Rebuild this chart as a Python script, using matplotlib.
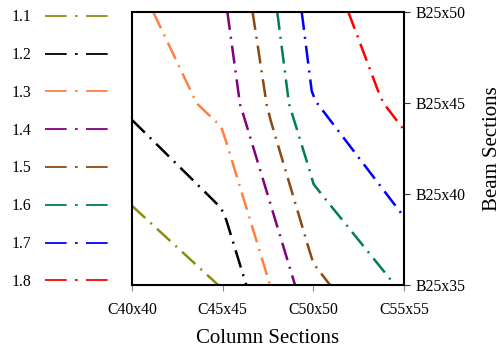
import matplotlib
matplotlib.use("Agg")
import matplotlib.pyplot as plt
from matplotlib.lines import Line2D

plt.rcParams["font.family"] = ["Liberation Serif", "DejaVu Serif"]

# column / beam section sizes (cm)
COLUMN_SIZES = [40, 45, 50, 55]
BEAM_SIZES = [35, 40, 45, 50]
COLUMN_LABELS = ["C40x40", "C45x45", "C50x50", "C55x55"]
BEAM_LABELS = ["B25x35", "B25x40", "B25x45", "B25x50"]

# contour levels and their traced iso-lines (column size, beam height)
LEVELS = ["1.1", "1.2", "1.3", "1.4", "1.5", "1.6", "1.7", "1.8"]
COLORS = ["#8c8c14", "#000000", "#ff8040", "#800080",
          "#8b4a12", "#00804a", "#0000ff", "#ff0000"]

x_11 = [40.00, 44.75]
y_11 = [39.35, 35.00]
x_12 = [40.00, 44.47, 44.92, 45.20, 46.30]
y_12 = [44.07, 39.67, 39.21, 38.57, 35.00]
x_13 = [41.17, 43.57, 44.91, 45.22, 47.61]
y_13 = [50.00, 44.98, 43.71, 42.79, 35.00]
x_14 = [45.26, 45.96, 46.14, 48.99]
y_14 = [50.00, 44.91, 44.36, 35.00]
x_15 = [46.65, 47.43, 47.67, 49.72, 50.00, 50.92]
y_15 = [50.00, 44.89, 43.96, 37.10, 36.19, 35.00]
x_16 = [48.01, 48.66, 49.82, 50.01, 50.48, 54.50]
y_16 = [50.00, 44.95, 41.21, 40.55, 39.95, 35.00]
x_17 = [49.36, 49.91, 50.12, 55.00]
y_17 = [50.00, 45.66, 45.11, 38.74]
x_18 = [51.93, 53.58, 53.86, 55.00]
y_18 = [50.00, 45.64, 45.00, 43.53]

LINES_X = [x_11, x_12, x_13, x_14, x_15, x_16, x_17, x_18]
LINES_Y = [y_11, y_12, y_13, y_14, y_15, y_16, y_17, y_18]


def plot_contours(out_png):
    fig = plt.figure(figsize=(5.04, 3.49), dpi=100)
    ax = fig.add_axes([0.2619, 0.1834, 0.5397, 0.7822])

    lw = 1.8
    for xs, ys, c in zip(LINES_X, LINES_Y, COLORS):
        ax.plot(xs, ys, color=c, lw=lw, linestyle=(0, (7.2, 2.8, 0.8, 2.8)),
                dash_capstyle="butt", clip_on=False)

    ax.set_xlim(40, 55)
    ax.set_ylim(35, 50)

    ax.set_xticks(COLUMN_SIZES)
    ax.set_xticklabels(COLUMN_LABELS)
    ax.set_yticks(BEAM_SIZES)
    ax.set_yticklabels(BEAM_LABELS)
    ax.yaxis.tick_right()
    ax.yaxis.set_label_position("right")

    ax.tick_params(axis="both", labelsize=11.3, direction="out",
                   length=4, width=0.8, color="#888888")
    ax.tick_params(axis="x", pad=8)
    ax.tick_params(axis="y", pad=4, color="#333333")

    for sp in ax.spines.values():
        sp.set_linewidth(1.5)

    ax.set_xlabel("Column Sections", fontsize=15, labelpad=8)
    ax.set_ylabel("Beam Sections", fontsize=15, labelpad=13, rotation=90)

    # legend on the left, labels ahead of the line samples
    handles = [Line2D([0], [0], color=c, lw=1.3,
                      linestyle=(0, (12, 4.6, 1.5, 4.6)))
               for c in COLORS]
    ax.legend(handles, LEVELS, loc="center right",
              bbox_to_anchor=(-0.061, 0.496), borderaxespad=0,
              frameon=False, markerfirst=False, fontsize=11.3,
              handlelength=4.1, handletextpad=0.85, labelspacing=1.39)

    fig.savefig(out_png, dpi=100)
    plt.close(fig)


def main():
    plot_contours("out.png")


if __name__ == "__main__":
    main()
